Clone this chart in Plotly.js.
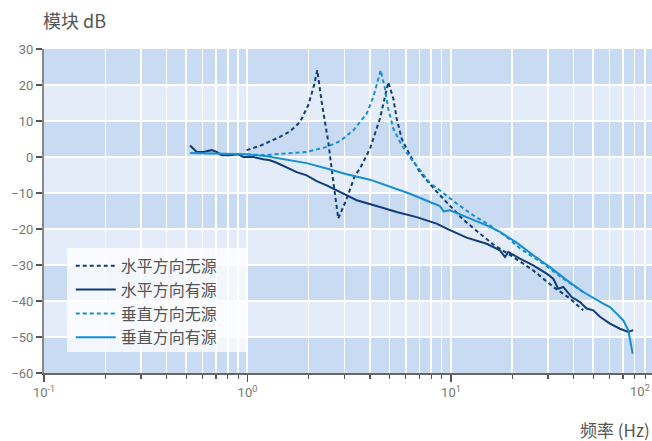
<!DOCTYPE html>
<html>
<head>
<meta charset="utf-8">
<script src="https://cdn.plot.ly/plotly-3.0.1.min.js"></script>
<style>html,body{margin:0;padding:0;background:#fff;}#chart{width:652px;height:441px;}</style>
</head>
<body>
<div id="chart"></div>
<script>
// ---- data ----
const seriesNames = ['水平方向无源', '水平方向有源', '垂直方向无源', '垂直方向有源'];

// 水平方向无源 (horizontal, passive)
const hPassiveFreq = [0.99, 1.152, 1.444, 1.618, 1.811, 1.99, 2.123, 2.203, 2.315, 2.495, 2.641, 2.794, 3.073, 3.376, 3.572, 4.0, 4.479, 4.74, 4.92, 5.21, 5.41, 5.725, 6.29, 7.04, 7.88, 8.18, 9.53, 11.49, 13.88, 16.14, 20.24, 25.38, 31.82, 38.45, 44.67];
const hPassiveDb   = [1.9, 3.1, 5.6, 7.1, 9.7, 14.4, 19.9, 24.1, 15.3, 4.2, -6.9, -17.1, -11.6, -5.1, -3.2, 2.3, 10.7, 17.1, 20.8, 16.2, 10.7, 5.1, 0.5, -4.2, -7.6, -8.6, -12.6, -17.4, -21.3, -24.3, -27.8, -31.5, -36.1, -39.3, -42.6];

// 水平方向有源 (horizontal, active)
const hActiveFreq = [0.522, 0.563, 0.607, 0.667, 0.706, 0.747, 0.820, 0.901, 0.954, 1.068, 1.196, 1.29, 1.391, 1.558, 1.745, 1.954, 2.188, 2.45, 2.64, 2.957, 3.44, 4.479, 5.41, 6.783, 8.504, 9.526, 11.94, 14.98, 17.41, 18.43, 19.12, 21.83, 25.37, 29.54, 31.82, 33.68, 35.63, 39.19, 43.05, 46.43, 50.04, 53.99, 60.44, 67.69, 74.34, 78.66];
const hActiveDb   = [3.2, 1.4, 1.4, 1.9, 1.4, 0.5, 0.5, 0.75, 0, 0, -0.6, -0.9, -1.6, -2.8, -4.2, -5.1, -6.7, -7.9, -8.8, -10.2, -12.0, -13.9, -15.3, -16.7, -18.5, -19.9, -22.4, -24.1, -25.9, -27.8, -26.4, -28.2, -30.1, -32.4, -33.8, -36.6, -36.1, -38.9, -40.3, -42.1, -42.6, -44.4, -46.3, -47.7, -48.6, -48.1];

// 垂直方向无源 (vertical, passive)
const vPassiveFreq = [0.99, 1.243, 1.444, 1.954, 2.45, 2.849, 3.311, 3.852, 4.153, 4.394, 4.515, 4.74, 4.92, 5.21, 5.616, 6.169, 7.04, 7.88, 8.83, 10.67, 12.87, 15.55, 18.78, 21.83, 28.42, 35.63, 44.67];
const vPassiveDb   = [0.7, 0.5, 0.9, 1.4, 2.8, 4.4, 7.4, 12.0, 16.7, 21.8, 24.1, 19.0, 13.4, 7.9, 4.2, 0.5, -3.5, -7.2, -9.3, -12.9, -16.2, -19.0, -22.2, -25.4, -29.6, -33.8, -37.5];

// 垂直方向有源 (vertical, active)
const vActiveFreq = [0.522, 0.99, 1.243, 1.558, 1.954, 2.45, 3.073, 4.0, 5.015, 6.29, 7.88, 8.83, 9.2, 9.89, 11.94, 14.98, 17.41, 21.03, 25.37, 30.66, 37.04, 44.67, 56.03, 60.44, 65.21, 70.3, 74.34, 76.39, 78.14];
const vActiveDb   = [1.1, 0.75, 0.2, -0.7, -1.7, -3.2, -4.8, -6.3, -8.3, -10.2, -12.5, -13.6, -15.1, -14.8, -16.7, -19.0, -20.8, -23.8, -27.3, -30.6, -34.2, -37.5, -40.7, -41.7, -43.5, -45.4, -48.1, -51.8, -54.6];

// axis ticks
const xTickVals = [0.1, 1, 10];
const xTickText = ['10<sup>-1</sup>', '10<sup>0</sup>', '10<sup>1</sup>'];
const xMinorVals = [0.2,0.3,0.4,0.5,0.6,0.7,0.8,0.9, 2,3,4,5,6,7,8,9, 20,30,40,50,60,70,80,90];
const yTickVals = [30, 20, 10, 0, -10, -20, -30, -40, -50, -60];
const darkBands = [[20,30],[0,10],[-20,-10],[-40,-30],[-60,-50]];

// ---- styling ----
const NAVY = '#0f3d7a';
const LIGHT = '#158fd4';
const DASH = '4px,3px';
const FONT = '"Noto Sans CJK SC", "Noto Sans", sans-serif';

const traces = [
  {x: hPassiveFreq, y: hPassiveDb, name: seriesNames[0], line: {color: NAVY, width: 2, dash: DASH}},
  {x: hActiveFreq,  y: hActiveDb,  name: seriesNames[1], line: {color: NAVY, width: 2}},
  {x: vPassiveFreq, y: vPassiveDb, name: seriesNames[2], line: {color: LIGHT, width: 2, dash: DASH}},
  {x: vActiveFreq,  y: vActiveDb,  name: seriesNames[3], line: {color: LIGHT, width: 2}}
].map(t => Object.assign({type: 'scatter', mode: 'lines', hoverinfo: 'skip'}, t));

const shapes = darkBands.map(b => ({
  type: 'rect', xref: 'paper', x0: 0, x1: 1, yref: 'y', y0: b[0], y1: b[1],
  fillcolor: '#c9dbf2', line: {width: 0}, layer: 'below'
}));
// legend backdrop
shapes.push({type: 'rect', xref: 'paper', yref: 'paper', x0: 0.0378, x1: 0.3355, y0: 0.0648, y1: 0.3858,
  fillcolor: 'rgba(255,255,255,0.78)', line: {width: 0}, layer: 'between'});

const layout = {
  width: 652, height: 441,
  margin: {l: 44, r: 0, t: 49, b: 68, pad: 0},
  paper_bgcolor: '#ffffff',
  plot_bgcolor: '#e4ecf9',
  font: {family: FONT, color: '#666', size: 13},
  showlegend: true,
  legend: {x: 0.044, y: 0.383, xanchor: 'left', yanchor: 'top', bgcolor: 'rgba(0,0,0,0)',
    itemwidth: 40, font: {size: 16, color: '#555', family: FONT}},
  xaxis: {
    type: 'log', range: [-1, 1.988],
    tickvals: xTickVals, ticktext: xTickText,
    ticks: 'outside', ticklen: 7, tickwidth: 1.5, tickcolor: '#555',
    showgrid: true, gridcolor: '#ffffff', gridwidth: 2,
    minor: {tickvals: xMinorVals, ticks: 'outside', ticklen: 4, tickwidth: 1.2, tickcolor: '#555',
      showgrid: true, gridcolor: '#ffffff', gridwidth: 1.5},
    showline: true, linecolor: '#666', linewidth: 1.5,
    zeroline: false,
    tickfont: {size: 13, color: '#777', family: 'Roboto, sans-serif'},
    title: {text: ''}
  },
  yaxis: {
    range: [-60, 30], tickvals: yTickVals,
    ticks: 'outside', ticklen: 6, tickwidth: 1.5, tickcolor: '#555',
    showgrid: true, gridcolor: '#ffffff', gridwidth: 2,
    showline: true, linecolor: '#888', linewidth: 2,
    zeroline: false,
    tickfont: {size: 13, color: '#777', family: 'Roboto, sans-serif'},
    title: {text: ''}
  },
  shapes: shapes,
  annotations: [
    {text: '模块 dB', xref: 'paper', yref: 'paper', x: -0.005, y: 1, xanchor: 'left', yanchor: 'middle',
      yshift: 29, showarrow: false, font: {size: 18, color: '#555', family: FONT}},
    {text: '频率 (Hz)', xref: 'paper', yref: 'paper', x: 1, y: 0, xanchor: 'right', yanchor: 'middle',
      yshift: -56, showarrow: false, font: {size: 17, color: '#555', family: FONT}},
    {text: '10<sup>2</sup>', xref: 'paper', yref: 'paper', x: 1, y: 0, xanchor: 'right', yanchor: 'top',
      yshift: -8, showarrow: false, font: {size: 13, color: '#777', family: 'Roboto, sans-serif'}}
  ]
};

Plotly.newPlot('chart', traces, layout, {staticPlot: true, displayModeBar: false});
</script>
</body>
</html>
